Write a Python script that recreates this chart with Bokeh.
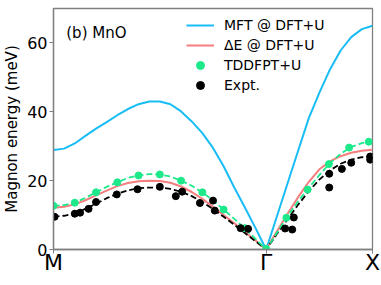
from bokeh.plotting import figure
from bokeh.models import Range1d, FixedTicker, Legend, LegendItem, Label
from bokeh.embed import file_html
from bokeh.resources import INLINE

# ---- data (path coordinate: M=0, Gamma=2, X=3) ----
k_ticks = [0, 2, 3]
k_labels = ["M", "Γ", "X"]
y_ticks = [0, 20, 40, 60]

k_line = [0.0, 0.1, 0.2, 0.3, 0.4, 0.5, 0.6, 0.7, 0.8, 0.9, 1.0,
          1.1, 1.2, 1.3, 1.4, 1.5, 1.6, 1.7, 1.8, 1.9, 2.0,
          2.1, 2.2, 2.3, 2.4, 2.5, 2.6, 2.7, 2.8, 2.9, 3.0]

mft = [28.9, 29.3, 30.8, 33.0, 35.1, 37.0, 39.0, 40.8, 42.2, 43.0, 43.0,
       42.2, 40.1, 37.2, 33.8, 29.5, 24.2, 18.0, 12.2, 6.2, 0.0,
       9.5, 19.1, 28.6, 38.1, 45.5, 52.3, 57.8, 61.7, 64.0, 65.0]

delta_e = [12.1, 12.4, 13.1, 14.3, 15.7, 17.1, 18.4, 19.3, 19.8, 20.0, 19.9,
           19.4, 18.3, 16.7, 14.7, 12.4, 10.0, 7.6, 5.1, 2.6, 0.0,
           5.2, 10.3, 15.2, 19.6, 23.3, 25.6, 27.1, 28.1, 28.7, 29.0]

tddfpt_fit = [12.7, 12.9, 13.6, 15.0, 16.6, 18.2, 19.5, 20.8, 21.5, 21.9, 21.8,
              21.2, 20.0, 18.5, 16.6, 14.3, 11.6, 8.9, 6.1, 3.1, 0.0,
              4.8, 9.6, 14.0, 17.9, 21.6, 25.1, 27.8, 29.8, 30.9, 31.4]

expt_fit = [9.5, 9.8, 10.5, 11.8, 13.3, 14.9, 16.2, 17.2, 17.8, 18.0, 18.0,
            17.6, 16.8, 15.5, 13.8, 11.8, 9.5, 7.2, 4.8, 2.4, 0.0,
            4.5, 8.7, 13.0, 16.9, 20.3, 23.0, 24.9, 26.1, 26.8, 27.0]

k_tddfpt = [0.0, 0.2, 0.4, 0.6, 0.8, 1.0, 1.2, 1.4, 1.6, 1.8, 2.0,
            2.19, 2.39, 2.59, 2.78, 2.965]
tddfpt = [12.7, 13.6, 16.6, 19.5, 21.5, 21.8, 20.0, 16.6, 11.6, 6.2, 0.2,
          9.2, 17.4, 24.8, 29.6, 31.3]

k_expt = [0.01, 0.20, 0.25, 0.33, 0.40, 0.595, 0.79, 1.0, 1.15, 1.21,
          1.377, 1.50, 1.517, 1.76, 1.83,
          2.178, 2.245, 2.26, 2.593, 2.593, 2.712, 2.80, 2.978, 2.978]
expt = [9.5, 10.4, 10.7, 11.8, 13.8, 16.0, 17.5, 18.2, 15.5, 16.8,
        13.5, 14.2, 11.3, 6.2, 6.0,
        6.1, 5.8, 9.3, 22.0, 18.0, 23.4, 25.2, 27.0, 26.1]

legend_labels = ["MFT @ DFT+U", "ΔE @ DFT+U", "TDDFPT+U", "Expt."]
panel_label = "(b) MnO"

# ---- colours ----
c_mft = "#19bdf5"
c_de = "#f47d7d"
c_td = "#1de98b"
c_ex = "#000000"
FONT = "DejaVu Sans"

p = figure(width=380, height=284, output_backend="svg", toolbar_location=None,
           x_range=Range1d(0, 3), y_range=Range1d(0, 70),
           min_border_left=51, min_border_right=8, min_border_top=8,
           min_border_bottom=35)
p.grid.visible = False
p.outline_line_color = "#808080"
p.outline_line_width = 1.3
p.background_fill_color = "white"

r_mft = p.line(k_line, mft, line_color=c_mft, line_width=2)
r_de = p.line(k_line, delta_e, line_color=c_de, line_width=2)
p.line(k_line, expt_fit, line_color=c_ex, line_width=1.8, line_dash="6 3")
p.line(k_line, tddfpt_fit, line_color=c_td, line_width=1.8, line_dash="6 3")
r_td = p.scatter(k_tddfpt, tddfpt, size=7, fill_color=c_td, line_color=c_td)
r_ex = p.scatter(k_expt, expt, size=7, fill_color=c_ex, line_color=c_ex)

# axes
xa = p.xaxis[0]
xa.ticker = FixedTicker(ticks=k_ticks)
xa.major_label_overrides = {t: l for t, l in zip(k_ticks, k_labels)}
xa.major_label_text_font = FONT
xa.major_label_text_font_size = "22px"
xa.major_label_text_color = "black"
xa.major_label_standoff = -4
xa.major_tick_out = 4
xa.major_tick_in = 0
xa.minor_tick_line_color = None
xa.axis_line_color = "#808080"
xa.axis_line_width = 1.3
xa.major_tick_line_color = "#808080"

ya = p.yaxis[0]
ya.ticker = FixedTicker(ticks=y_ticks)
ya.major_label_text_font = FONT
ya.major_label_text_font_size = "16px"
ya.major_label_text_color = "black"
ya.major_label_standoff = 2
ya.major_tick_out = 4
ya.major_tick_in = 0
ya.minor_tick_line_color = None
ya.axis_line_color = "#808080"
ya.axis_line_width = 1.3
ya.major_tick_line_color = "#808080"
ya.axis_label = "Magnon energy (meV)"
ya.axis_label_text_font = FONT
ya.axis_label_text_font_size = "15px"
ya.axis_label_text_font_style = "normal"
ya.axis_label_text_color = "black"
ya.axis_label_standoff = 3

# legend
legend = Legend(items=[LegendItem(label=legend_labels[0], renderers=[r_mft]),
                       LegendItem(label=legend_labels[1], renderers=[r_de]),
                       LegendItem(label=legend_labels[2], renderers=[r_td]),
                       LegendItem(label=legend_labels[3], renderers=[r_ex])],
                location=(133, 154), padding=0, margin=0, spacing=0,
                glyph_width=28, glyph_height=20, label_height=20,
                label_standoff=10, border_line_color=None,
                background_fill_alpha=0,
                label_text_font=FONT, label_text_font_size="14px",
                label_text_color="black")
p.add_layout(legend)

p.add_layout(Label(x=0.12, y=63.0, text=panel_label, text_font=FONT,
                   text_font_size="15px", text_color="black",
                   text_baseline="alphabetic"))

open("out.html", "w").write(file_html(p, INLINE))
